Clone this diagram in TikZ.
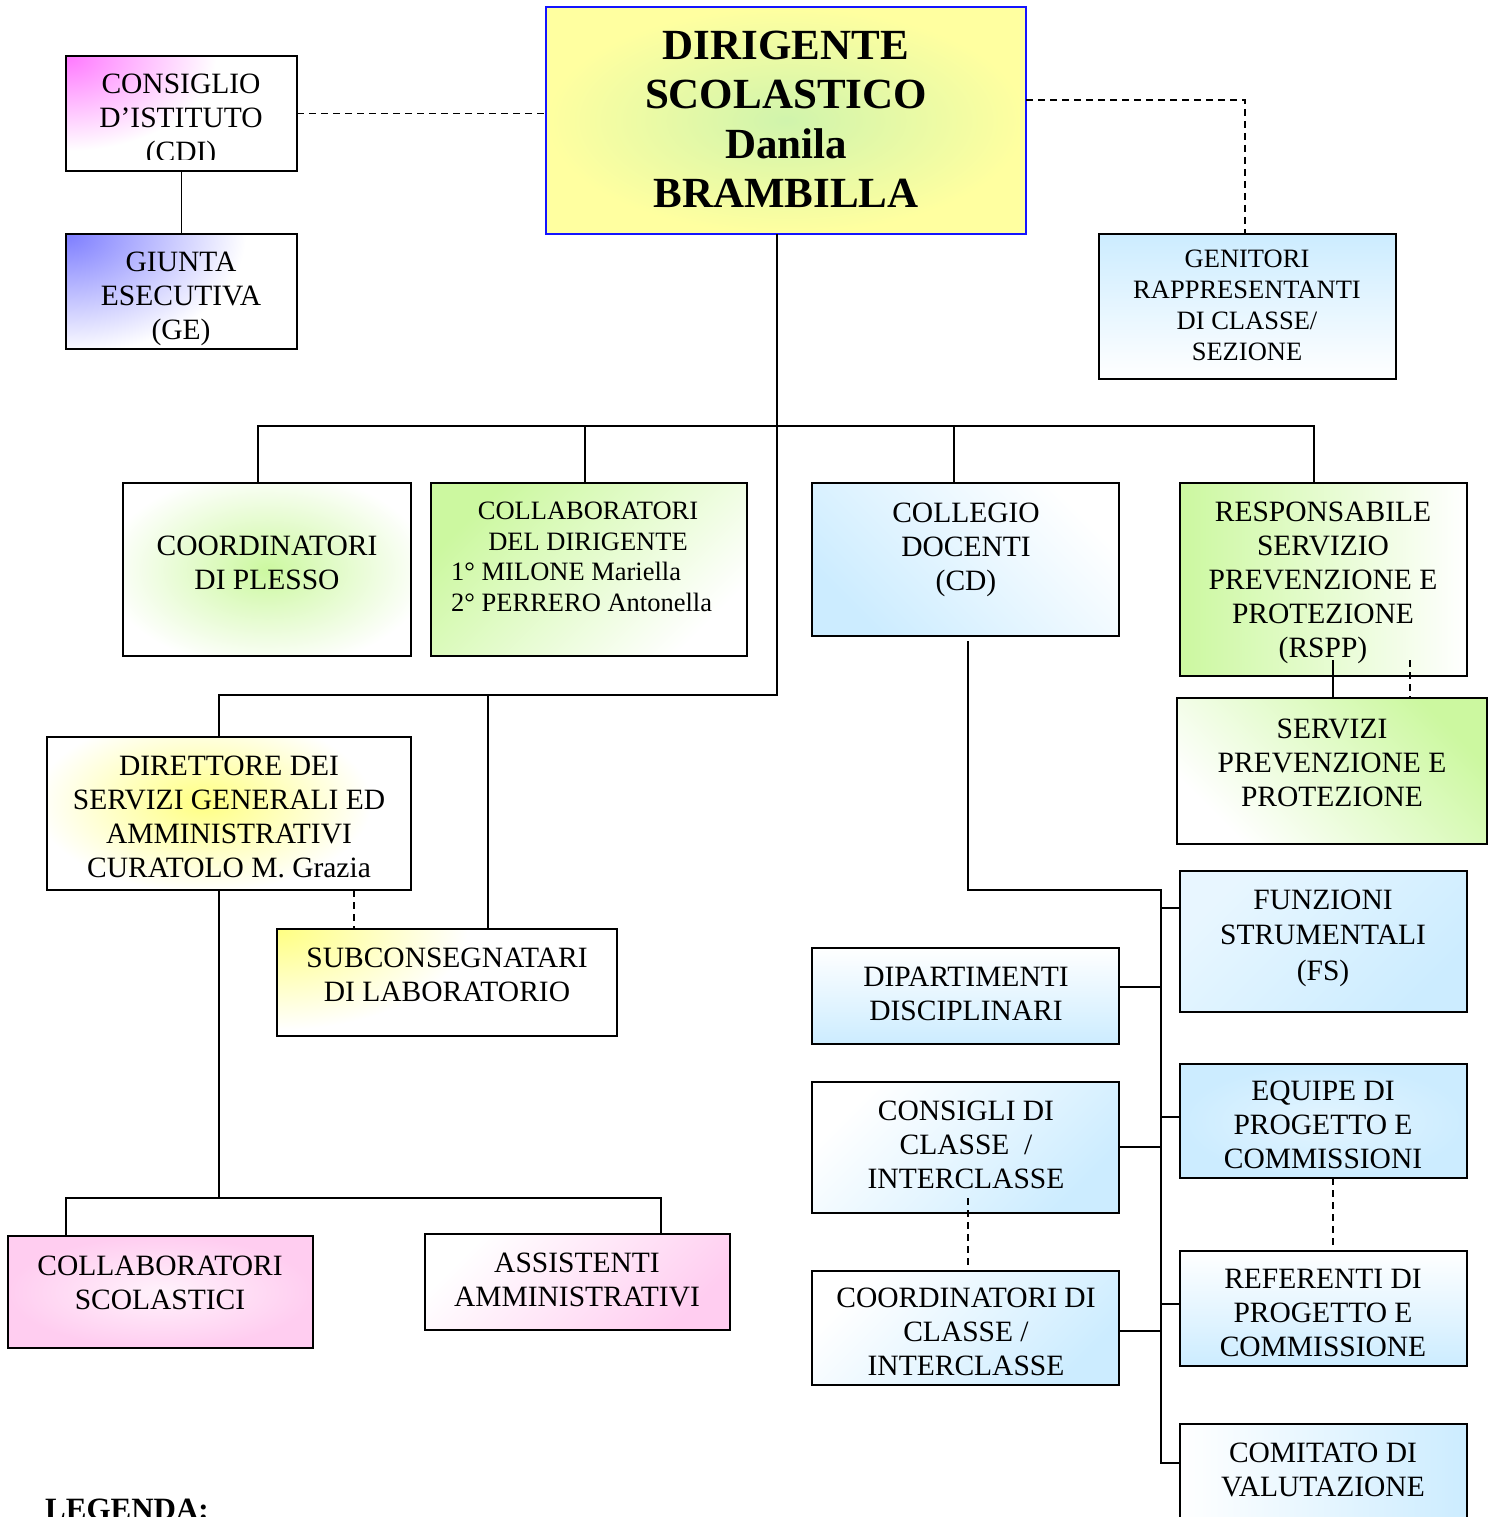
\documentclass[tikz,border=0pt]{standalone}
\usepackage{fontspec}
\setmainfont{Liberation Serif}
\usetikzlibrary{fit,calc}
\definecolor{mag}{RGB}{255,120,255}
\definecolor{geb}{RGB}{125,125,255}
\definecolor{diry}{RGB}{255,255,160}
\definecolor{dirg}{RGB}{208,244,172}
\definecolor{lblue}{RGB}{204,236,255}
\definecolor{lgreen}{RGB}{204,248,160}
\definecolor{lyel}{RGB}{255,255,130}
\definecolor{lpink}{RGB}{255,205,240}
\definecolor{dirblue}{RGB}{20,20,255}
\pgfdeclareradialshading{gmag}{\pgfpoint{0bp}{0bp}}{color(0bp)=(mag); color(12.5bp)=(white); color(50bp)=(white)}
\pgfdeclareradialshading{ggeb}{\pgfpoint{0bp}{0bp}}{color(0bp)=(geb); color(12.5bp)=(white); color(50bp)=(white)}
\pgfdeclareradialshading{ggreen}{\pgfpoint{0bp}{0bp}}{color(0bp)=(lgreen); color(15bp)=(white); color(50bp)=(white)}
\pgfdeclareradialshading{gyel}{\pgfpoint{0bp}{0bp}}{color(0bp)=(lyel); color(14bp)=(white); color(50bp)=(white)}
\begin{document}
\begin{tikzpicture}[x=1pt,y=-1pt,
  box/.style={draw=black, line width=1.8pt, inner sep=0pt, outer sep=0pt},
  glow/.style n args={4}{fill=white, path picture={\shade[shading=#1] ($(path picture bounding box.north west)!#2!(path picture bounding box.south east)$) ++(-#3pt,-#4pt) rectangle ++({2*#3pt},{2*#4pt});}},
  txt/.style={align=center, font=\fontsize{29.5}{34}\selectfont, inner sep=0pt},
  stxt/.style={align=center, font=\fontsize{26.5}{31}\selectfont, inner sep=0pt},
  conn/.style={line width=1.8pt},
  dconn/.style={line width=1.6pt, dash pattern=on 7pt off 5pt},
]
\useasboundingbox (0,0) rectangle (1494,1517);

% ---------- boxes ----------
\node[box, fit={(66,56) (297,171)}, glow={gmag}{0}{300}{190}] (cdi) {};
\node[box, fit={(66,234) (297,349)}, glow={ggeb}{0}{360}{240}] (ge) {};
\node[box, draw=dirblue, fit={(546,7) (1026,234)}, inner color=dirg, outer color=diry] (dir) {};
\node[box, fit={(1099,234) (1396,379)}, top color=lblue, bottom color=white] (gen) {};
\node[box, fit={(123,483) (411,656)}, glow={ggreen}{0.5}{270}{165}] (plesso) {};
\node[box, fit={(431,483) (747,656)}, top color=lgreen, middle color=lgreen!55, bottom color=white, shading angle=45] (cdd) {};
\node[box, fit={(812,483) (1119,636)}, top color=white, bottom color=lblue, shading angle=-45] (cd) {};
\node[box, fit={(1180,483) (1467,676)}, left color=lgreen, middle color=lgreen!60, right color=white] (rspp) {};
\node[box, fit={(1177,698) (1487,844)}, top color=lgreen, bottom color=white, shading angle=-45] (spp) {};
\node[box, fit={(47,737) (411,890)}, glow={gyel}{0.43}{300}{160}] (dsga) {};
\node[box, fit={(277,929) (617,1036)}, glow={gyel}{0}{340}{180}] (sub) {};
\node[box, fit={(1180,871) (1467,1012)}, top color=lblue!45, bottom color=lblue, shading angle=45] (fs) {};
\node[box, fit={(812,948) (1119,1044)}, top color=white, bottom color=lblue] (dip) {};
\node[box, fit={(812,1082) (1119,1213)}, top color=white, bottom color=lblue, shading angle=45] (cc) {};
\node[box, fit={(812,1271) (1119,1385)}, top color=white, bottom color=lblue, shading angle=45] (coordc) {};
\node[box, fit={(1180,1064) (1467,1178)}, inner color=lblue!55, outer color=lblue] (eq) {};
\node[box, fit={(1180,1251) (1467,1366)}, top color=white, bottom color=lblue] (ref) {};
\node[box, fit={(1180,1424) (1467,1545)}, left color=white, right color=lblue] (com) {};
\node[box, fit={(8,1236) (313,1348)}, inner color=lpink!25, outer color=lpink] (cs) {};
\node[box, fit={(425,1234) (730,1330)}, top color=white, bottom color=lpink, shading angle=45] (aa) {};

% ---------- texts ----------
\begin{scope}
  \clip (66,56) rectangle (297,160);
  \node[txt] (cdiT) at (181,121) {CONSIGLIO\\D’ISTITUTO\\(CDI)};
\end{scope}
\node[txt] (geT) at (181,299) {GIUNTA\\ESECUTIVA\\(GE)};
\node[align=center, inner sep=0pt, font=\bfseries\fontsize{43}{49.5}\selectfont] (dirT) at (786,119.5) {DIRIGENTE\\SCOLASTICO\\Danila\\BRAMBILLA};
\node[stxt] (genT) at (1247,305.5) {GENITORI\\RAPPRESENTANTI\\DI CLASSE/\\SEZIONE};
\node[txt] (plessoT) at (267,563) {COORDINATORI\\DI PLESSO};
\node[stxt] (cddT1) at (588,526) {COLLABORATORI\\DEL DIRIGENTE};
\node[stxt, anchor=west, align=left] (cddT2) at (451,587) {1° MILONE Mariella\\2° PERRERO Antonella};
\node[txt] (cdT) at (966,550) {COLLEGIO\\DOCENTI\\(CD)};
\node[txt] (rsppT) at (1323,583) {RESPONSABILE\\SERVIZIO\\PREVENZIONE E\\PROTEZIONE\\(RSPP)};
\node[txt] (sppT) at (1332,762.5) {SERVIZI\\PREVENZIONE E\\PROTEZIONE};
\node[txt] (dsgaT) at (229,817) {DIRETTORE DEI\\SERVIZI GENERALI ED\\AMMINISTRATIVI\\CURATOLO M. Grazia};
\node[txt] (subT) at (447,974.5) {SUBCONSEGNATARI\\DI LABORATORIO};
\node[align=center, font=\fontsize{29.5}{35.5}\selectfont, inner sep=0pt] (fsT) at (1323,938) {FUNZIONI\\STRUMENTALI\\(FS)};
\node[txt] (dipT) at (966,993.5) {DIPARTIMENTI\\DISCIPLINARI};
\begin{scope}
  \clip (812,1082) rectangle (1119,1198);
  \node[txt] (ccT) at (966,1164.5) {CONSIGLI DI\\CLASSE\ \ /\\INTERCLASSE\\(CC)};
\end{scope}
\node[txt] (coordcT) at (966,1332) {COORDINATORI DI\\CLASSE /\\INTERCLASSE};
\node[txt] (eqT) at (1323,1125) {EQUIPE DI\\PROGETTO E\\COMMISSIONI};
\node[txt] (refT) at (1323,1313) {REFERENTI DI\\PROGETTO E\\COMMISSIONE};
\node[txt] (comT) at (1323,1469.5) {COMITATO DI\\VALUTAZIONE};
\node[txt] (csT) at (160,1283) {COLLABORATORI\\SCOLASTICI};
\node[txt] (aaT) at (577,1280) {ASSISTENTI\\AMMINISTRATIVI};
\node[anchor=west, inner sep=0pt, font=\bfseries\fontsize{31}{36}\selectfont] (leg) at (45,1509) {LEGENDA:};

% ---------- connectors ----------
\draw[conn] (cdi.south) -- (ge.north);
\draw[dconn] (cdi.east) -- (cdi.east -| dir.west);
\coordinate (gd) at (1245,100);
\draw[dconn] (dir.east |- gd) -- (gd) -- (gd |- gen.north);

\coordinate (tr) at (777,426);
\coordinate (bL) at (258,426);
\coordinate (bC) at (585,426);
\coordinate (bD) at (954,426);
\coordinate (bR) at (1314,426);
\coordinate (tb) at (777,695);
\coordinate (aL) at (219,695);
\coordinate (aM) at (488,695);
\draw[conn] (tr |- dir.south) -- (tb) -- (aL) -- (aL |- dsga.north);
\draw[conn] (bL |- plesso.north) -- (bL) -- (bR) -- (bR |- rspp.north);
\draw[conn] (bC) -- (bC |- cdd.north);
\draw[conn] (bD) -- (bD |- cd.north);
\draw[conn] (aM) -- (aM |- sub.north);

\coordinate (ds) at (354,900);
\draw[dconn] (ds |- dsga.south) -- (ds |- sub.north);

\coordinate (dl) at (219,1198);
\coordinate (dlL) at (66,1198);
\coordinate (dlR) at (661,1198);
\draw[conn] (dl |- dsga.south) -- (dl);
\draw[conn] (dlL |- cs.north) -- (dlL) -- (dlR) -- (dlR |- aa.north);

\coordinate (rs) at (1333,660);
\coordinate (rd) at (1410,660);
\draw[conn] (rs) -- (rs |- spp.north);
\draw[dconn] (rd) -- (rd |- spp.north);

\coordinate (cg) at (968,641);
\coordinate (cgb) at (968,890);
\coordinate (sp) at (1161,890);
\coordinate (spb) at (1161,1463);
\draw[conn] (cg) -- (cgb) -- (sp) -- (spb) -- (spb -| com.west);

\coordinate (tFS) at (1161,908);
\coordinate (tDip) at (1161,987);
\coordinate (tEq) at (1161,1117);
\coordinate (tCC) at (1161,1147);
\coordinate (tRef) at (1161,1304);
\coordinate (tCo) at (1161,1331);
\draw[conn] (tFS) -- (tFS -| fs.west);
\draw[conn] (tDip) -- (tDip -| dip.east);
\draw[conn] (tEq) -- (tEq -| eq.west);
\draw[conn] (tCC) -- (tCC -| cc.east);
\draw[conn] (tRef) -- (tRef -| ref.west);
\draw[conn] (tCo) -- (tCo -| coordc.east);

\coordinate (c1) at (968,1198);
\draw[dconn] (c1) -- (c1 |- coordc.north);
\coordinate (e1) at (1333,1178);
\draw[dconn] (e1) -- (e1 |- ref.north);
\end{tikzpicture}
\end{document}
